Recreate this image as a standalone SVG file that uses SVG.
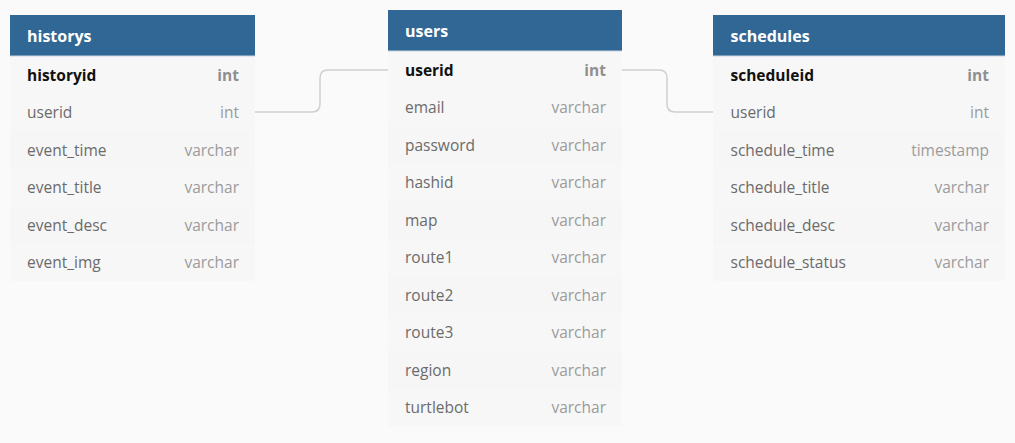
<svg xmlns="http://www.w3.org/2000/svg" width="1015" height="443" viewBox="0 0 1015 443">
<style>
.bg{fill:#fafafa}
.body{fill:#f7f7f7}
.alt{fill:#f6f6f6}
.head{fill:#316794}
.hline{fill:#c9d6e2}
.title{font-family:"Open Sans","Noto Sans",sans-serif;font-size:16px;font-weight:bold;fill:#ffffff}
.f{font-family:"Open Sans","Noto Sans",sans-serif;font-size:15.5px;fill:#6b6b6b}
.t{font-family:"Open Sans","Noto Sans",sans-serif;font-size:15.5px;fill:#9b9b9b;text-anchor:end}
.pk{font-weight:bold;fill:#111111}
.pkt{font-weight:bold;fill:#8f8f8f}
.conn{fill:none;stroke:#cfcfcf;stroke-width:1.5}
</style>
<rect class="bg" x="0" y="0" width="1015" height="443"/>
<g id="connectors">
<path class="conn" d="M255,112 H312 Q320,112 320,104 V78 Q320,70 328,70 H388"/>
<path class="conn" d="M622,70 H659 Q667,70 667,78 V104 Q667,112 675,112 H713"/>
</g>
<g id="historys">
<rect class="body" x="10" y="56" width="245" height="225"/>
<rect class="alt" x="10" y="131" width="245" height="37.5"/>
<rect class="alt" x="10" y="206" width="245" height="37.5"/>
<rect class="head" x="10" y="15" width="245" height="41"/>
<rect class="hline" x="10" y="55.5" width="245" height="1"/>
<text class="title" x="27" y="41.5">historys</text>
<text class="f pk" x="27" y="80.5">historyid</text><text class="t pkt" x="239" y="80.5">int</text>
<text class="f" x="27" y="118">userid</text><text class="t" x="239" y="118">int</text>
<text class="f" x="27" y="155.5">event_time</text><text class="t" x="239" y="155.5">varchar</text>
<text class="f" x="27" y="193">event_title</text><text class="t" x="239" y="193">varchar</text>
<text class="f" x="27" y="230.5">event_desc</text><text class="t" x="239" y="230.5">varchar</text>
<text class="f" x="27" y="268">event_img</text><text class="t" x="239" y="268">varchar</text>
</g>
<g id="users">
<rect class="body" x="388" y="51" width="234" height="375"/>
<rect class="alt" x="388" y="126" width="234" height="37.5"/>
<rect class="alt" x="388" y="201" width="234" height="37.5"/>
<rect class="alt" x="388" y="276" width="234" height="37.5"/>
<rect class="alt" x="388" y="351" width="234" height="37.5"/>
<rect class="head" x="388" y="10" width="234" height="41"/>
<rect class="hline" x="388" y="50.5" width="234" height="1"/>
<text class="title" x="405" y="36.5">users</text>
<text class="f pk" x="405" y="75.5">userid</text><text class="t pkt" x="606" y="75.5">int</text>
<text class="f" x="405" y="113">email</text><text class="t" x="606" y="113">varchar</text>
<text class="f" x="405" y="150.5">password</text><text class="t" x="606" y="150.5">varchar</text>
<text class="f" x="405" y="188">hashid</text><text class="t" x="606" y="188">varchar</text>
<text class="f" x="405" y="225.5">map</text><text class="t" x="606" y="225.5">varchar</text>
<text class="f" x="405" y="263">route1</text><text class="t" x="606" y="263">varchar</text>
<text class="f" x="405" y="300.5">route2</text><text class="t" x="606" y="300.5">varchar</text>
<text class="f" x="405" y="338">route3</text><text class="t" x="606" y="338">varchar</text>
<text class="f" x="405" y="375.5">region</text><text class="t" x="606" y="375.5">varchar</text>
<text class="f" x="405" y="413">turtlebot</text><text class="t" x="606" y="413">varchar</text>
</g>
<g id="schedules">
<rect class="body" x="713" y="56" width="292" height="225"/>
<rect class="alt" x="713" y="131" width="292" height="37.5"/>
<rect class="alt" x="713" y="206" width="292" height="37.5"/>
<rect class="head" x="713" y="15" width="292" height="41"/>
<rect class="hline" x="713" y="55.5" width="292" height="1"/>
<text class="title" x="730.5" y="41.5">schedules</text>
<text class="f pk" x="730.5" y="80.5">scheduleid</text><text class="t pkt" x="989" y="80.5">int</text>
<text class="f" x="730.5" y="118">userid</text><text class="t" x="989" y="118">int</text>
<text class="f" x="730.5" y="155.5">schedule_time</text><text class="t" x="989" y="155.5">timestamp</text>
<text class="f" x="730.5" y="193">schedule_title</text><text class="t" x="989" y="193">varchar</text>
<text class="f" x="730.5" y="230.5">schedule_desc</text><text class="t" x="989" y="230.5">varchar</text>
<text class="f" x="730.5" y="268">schedule_status</text><text class="t" x="989" y="268">varchar</text>
</g>
</svg>
